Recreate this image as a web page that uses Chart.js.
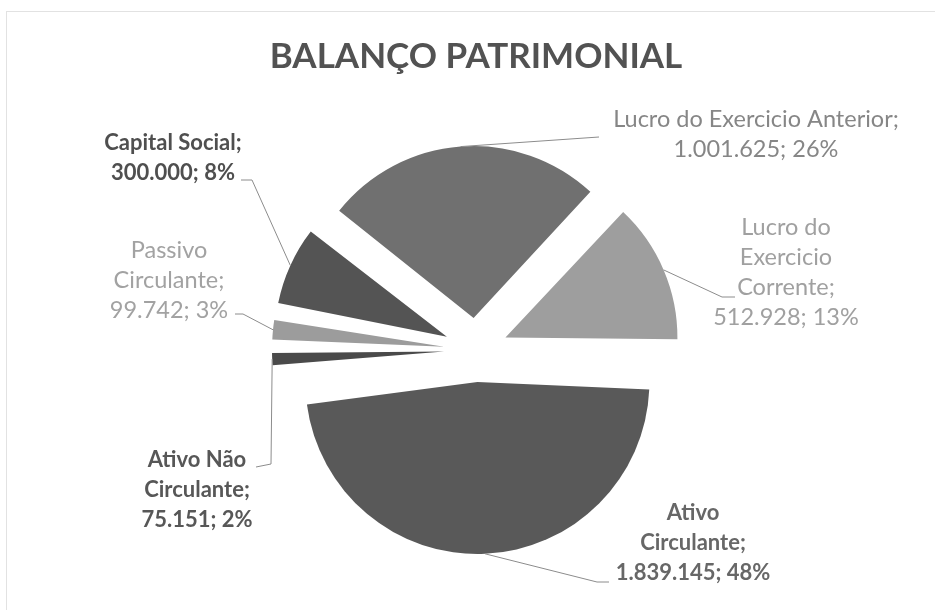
<!DOCTYPE html>
<html>
<head>
<meta charset="utf-8">
<script src="https://cdn.jsdelivr.net/npm/chart.js@4.4.1/dist/chart.umd.min.js"></script>
<style>
  body { margin: 0; background: #fff; }
  #wrap { position: relative; width: 935px; height: 610px; overflow: hidden; }
  #frame { position: absolute; left: 6px; top: 11px; width: 940px; height: 610px;
           border-left: 1px solid #e2e2e2; border-top: 1px solid #e2e2e2; }
  #myChart { position: absolute; left: 0; top: 0; }
</style>
</head>
<body>
<div id="wrap">
  <div id="frame"></div>
  <canvas id="myChart" width="935" height="610"></canvas>
</div>
<script>
// data
let categories = ['Ativo Circulante', 'Ativo Não Circulante', 'Passivo Circulante',
                  'Capital Social', 'Lucro do Exercicio Anterior', 'Lucro do Exercicio Corrente'];
let values = [1839145, 75151, 99742, 300000, 1001625, 512928];
let sliceColors = ['#595959', '#4a4a4a', '#9c9c9c', '#545454', '#707070', '#9e9e9e'];

// where each label sits (centre x, first baseline, wrap width, leader points)
let labelLayout = [
  { x: 693, y: 520, wrap: 115, color: '#676767', bold: true,  leader: [[597, 582], [609, 582]] },
  { x: 197, y: 467, wrap: 125, color: '#575757', bold: true,  leader: [[271, 464], [256, 467]] },
  { x: 169, y: 258, wrap: 125, color: '#a2a2a2', bold: false, leader: [[243, 314], [235, 314]] },
  { x: 173, y: 150, wrap: 180, color: '#4f4f4f', bold: true,  leader: [[252, 180], [241, 180]] },
  { x: 756, y: 127, wrap: 340, color: '#868686', bold: false, leader: [[599, 137]] },
  { x: 786, y: 235, wrap: 110, color: '#a0a0a0', bold: false, leader: [[722, 297], [735, 297]] }
];

let total = values.reduce((a, b) => a + b, 0);

function fmtNum(v) {
  return String(v).replace(/\B(?=(\d{3})+(?!\d))/g, '.');
}

function wrapText(ctx, text, maxW) {
  let words = text.split(' ');
  let lines = [];
  let cur = '';
  for (let w of words) {
    let test = cur ? cur + ' ' + w : w;
    if (cur && ctx.measureText(test).width > maxW) {
      lines.push(cur);
      cur = w;
    } else {
      cur = test;
    }
  }
  if (cur) lines.push(cur);
  return lines;
}

// chart.js grows the radius of offset arcs; pull it back so every slice keeps the same size
const keepRadius = {
  id: 'keepRadius',
  afterDatasetUpdate(chart, args) {
    let meta = args.meta;
    let R = chart.data.datasets[args.index].radius;
    meta.data.forEach(arc => {
      let shift = (arc.options.offset || 0) / 4;
      let fix = 1 - Math.sin(Math.min(Math.PI, arc.circumference));
      arc.outerRadius = R - shift * fix;
    });
  }
};

const sliceLabels = {
  id: 'sliceLabels',
  afterDatasetsDraw(chart) {
    let ctx = chart.ctx;
    let meta = chart.getDatasetMeta(0);
    meta.data.forEach((arc, i) => {
      let lay = labelLayout[i];
      let mid = (arc.startAngle + arc.endAngle) / 2;
      let shift = (arc.options.offset || 0) / 4;
      let fix = 1 - Math.sin(Math.min(Math.PI, arc.circumference));
      let r = arc.outerRadius + shift * fix;
      let ax = arc.x + Math.cos(mid) * (shift + r);
      let ay = arc.y + Math.sin(mid) * (shift + r);

      ctx.save();
      ctx.strokeStyle = '#8c8c8c';
      ctx.lineWidth = 1;
      ctx.beginPath();
      ctx.moveTo(ax, ay);
      lay.leader.forEach(p => ctx.lineTo(p[0], p[1]));
      ctx.stroke();

      ctx.font = lay.bold ? 'bold 22px Lato' : '23.5px Lato';
      ctx.fillStyle = lay.color;
      ctx.textAlign = 'center';
      ctx.textBaseline = 'alphabetic';
      let pct = Math.round(values[i] / total * 100);
      let lines = wrapText(ctx, categories[i] + ';', lay.wrap);
      lines.push(fmtNum(values[i]) + '; ' + pct + '%');
      lines.forEach((t, k) => ctx.fillText(t, lay.x, lay.y + k * 30));
      ctx.restore();
    });
  }
};

let graphTarget = document.getElementById('myChart');
let pieChart = new Chart(graphTarget, {
  type: 'pie',
  data: {
    labels: categories,
    datasets: [{
      data: values,
      backgroundColor: sliceColors,
      borderWidth: 0,
      offset: 128,
      radius: 172,
      rotation: 91,
      clip: false
    }]
  },
  options: {
    responsive: false,
    animation: false,
    events: [],
    layout: { padding: { left: 17, right: 0, top: 0, bottom: 0 } },
    plugins: {
      legend: { display: false },
      tooltip: { enabled: false },
      title: {
        display: true,
        text: 'BALANÇO PATRIMONIAL',
        color: '#525252',
        font: { family: 'Lato', size: 35, weight: 'bold' },
        padding: { top: 36, bottom: 12 }
      }
    }
  },
  plugins: [keepRadius, sliceLabels]
});
</script>
</body>
</html>
